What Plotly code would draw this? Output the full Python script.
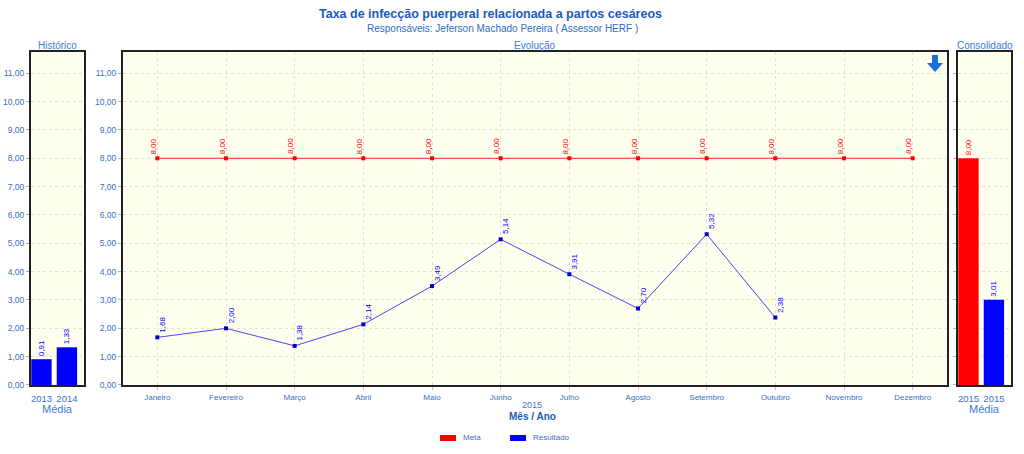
import plotly.graph_objects as go

# ---------------- data ----------------
months = ["Janeiro", "Fevereiro", "Março", "Abril", "Maio", "Junho", "Julho",
          "Agosto", "Setembro", "Outubro", "Novembro", "Dezembro"]
meta = [8.00, 8.00, 8.00, 8.00, 8.00, 8.00, 8.00, 8.00, 8.00, 8.00, 8.00, 8.00]
resultado = [1.68, 2.00, 1.38, 2.14, 3.49, 5.14, 3.91, 2.70, 5.32, 2.38, None, None]

hist_years = ["2013", "2014"]
hist_values = [0.91, 1.33]

cons_labels = ["2015", "2015"]
cons_meta = 8.00
cons_resultado = 3.01

y_ticks = [0, 1, 2, 3, 4, 5, 6, 7, 8, 9, 10, 11]
legend_names = ["Meta", "Resultado"]
legend_colors = ["#ff0000", "#0000ff"]

# ---------------- helpers ----------------
W, H = 1024, 454
VS = 0.989  # vertical compensation
def px(x):
    return x / W
def py(y):
    return 1 - (y / VS) / H

def fmt(v):
    return f"{v:.2f}".replace(".", ",")

FONT = "Liberation Sans, Arial, sans-serif"
TICK_BLUE = "#3a6fc4"
TITLE_BLUE = "#1a5cb8"
LABEL_BLUE = "#3b7bd6"
BG = "#fffff0"
GRID = "#e2e2d0"

fig = go.Figure()

# Histórico bars
fig.add_trace(go.Bar(
    x=[0, 1], y=hist_values, width=0.8,
    marker=dict(color="#0000ff", line=dict(width=0)),
    text=[fmt(v) for v in hist_values], textposition="outside", textangle=-90,
    textfont=dict(size=8, color="#0000ff", family=FONT),
    cliponaxis=False, showlegend=False, hoverinfo="y",
    xaxis="x", yaxis="y"))

# Evolução lines
fig.add_trace(go.Scatter(
    x=months, y=meta, mode="lines+markers", name="Meta",
    line=dict(color="#ff2020", width=1),
    marker=dict(symbol="square", size=4, color="#ff0000"),
    showlegend=False, xaxis="x2", yaxis="y2"))
fig.add_trace(go.Scatter(
    x=months, y=resultado, mode="lines+markers", name="Resultado",
    line=dict(color="#4848f0", width=1),
    marker=dict(symbol="square", size=4, color="#0000c8"),
    showlegend=False, xaxis="x2", yaxis="y2"))

# Consolidado bars
fig.add_trace(go.Bar(
    x=[0], y=[cons_meta], width=0.8, name="Meta",
    marker=dict(color="#ff0000", line=dict(width=0)),
    text=[fmt(cons_meta)], textposition="outside", textangle=-90,
    textfont=dict(size=8, color="#ff0000", family=FONT),
    cliponaxis=False, showlegend=False, xaxis="x3", yaxis="y3"))
fig.add_trace(go.Bar(
    x=[1], y=[cons_resultado], width=0.8, name="Resultado",
    marker=dict(color="#0000ff", line=dict(width=0)),
    text=[fmt(cons_resultado)], textposition="outside", textangle=-90,
    textfont=dict(size=8, color="#0000ff", family=FONT),
    cliponaxis=False, showlegend=False, xaxis="x3", yaxis="y3"))

# data labels on the lines
annotations = []
for m, v in zip(months, meta):
    annotations.append(dict(x=m, y=v, xref="x2", yref="y2", text=fmt(v),
                            textangle=-90, showarrow=False, xshift=-4, yshift=12,
                            xanchor="center", yanchor="middle",
                            font=dict(size=8, color="#ff0000", family=FONT)))
for m, v in zip(months, resultado):
    if v is None:
        continue
    annotations.append(dict(x=m, y=v, xref="x2", yref="y2", text=fmt(v),
                            textangle=-90, showarrow=False, xshift=5, yshift=13,
                            xanchor="center", yanchor="middle",
                            font=dict(size=8, color="#0000ff", family=FONT)))

def label(x, y, text, size, color):
    return dict(x=px(x), y=py(y), xref="paper", yref="paper", showarrow=False,
                xanchor="center", yanchor="middle", text=text,
                font=dict(size=size, color=color, family=FONT))

# titles
annotations += [
    label(490, 14, "<b>Taxa de infecção puerperal relacionada a partos cesáreos</b>", 12.5, TITLE_BLUE),
    label(502, 29, "Responsáveis: Jeferson Machado Pereira ( Assessor HERF )", 10, "#2f6cc8"),
    label(57.5, 46, "Histórico", 10, LABEL_BLUE),
    label(535, 46, "Evolução", 10, LABEL_BLUE),
    label(984.5, 46, "Consolidado", 10, LABEL_BLUE),
    label(57.5, 409, "Média", 11, LABEL_BLUE),
    label(984.5, 409, "Média", 11, LABEL_BLUE),
    label(532, 405, "2015", 9, LABEL_BLUE),
    label(532, 417, "<b>Mês / Ano</b>", 10, TITLE_BLUE),
]

# down arrow icon
arrow_path = (f"M{px(932)},{py(55)} L{px(938)},{py(55)} L{px(938)},{py(63)} "
              f"L{px(943)},{py(63)} L{px(935)},{py(72)} L{px(927)},{py(63)} "
              f"L{px(932)},{py(63)} Z")
shapes = [dict(type="path", xref="paper", yref="paper", path=arrow_path,
               fillcolor="#1c6fd4", line=dict(width=0))]

# legend (swatches + labels)
legend_x = [440, 510]
for lx, name, col in zip(legend_x, legend_names, legend_colors):
    shapes.append(dict(type="rect", xref="paper", yref="paper",
                       x0=px(lx), x1=px(lx + 16), y0=py(441), y1=py(435),
                       fillcolor=col, line=dict(width=0)))
    annotations.append(dict(x=px(lx + 21), y=py(438), xref="paper", yref="paper",
                            showarrow=False, xanchor="left", yanchor="middle",
                            text=name, font=dict(size=8, color=TICK_BLUE, family=FONT)))

y_dom = [py(385), py(52)]
yrange = [0, 11.75]

def yaxis_common(show_labels, anchor):
    return dict(domain=y_dom, range=yrange, anchor=anchor,
                tickvals=y_ticks, tickformat=".2f", showticklabels=show_labels,
                tickfont=dict(size=8.5, color=TICK_BLUE, family=FONT),
                ticks="outside", ticklen=3, tickcolor="#b0b0b0",
                showgrid=True, gridcolor=GRID, griddash="dot", gridwidth=1,
                showline=True, linecolor="#222222", linewidth=2, mirror=True,
                zeroline=False, fixedrange=True)

fig.update_layout(
    width=W, height=H,
    margin=dict(l=0, r=0, t=0, b=0),
    paper_bgcolor="white", plot_bgcolor=BG,
    separators=",.",
    barmode="overlay",
    font=dict(family=FONT, color=TICK_BLUE),
    xaxis=dict(domain=[px(31), px(84)], range=[-0.41, 1.67], anchor="y",
               tickvals=[0, 1], ticktext=hist_years,
               tickfont=dict(size=9.5, color=TICK_BLUE, family=FONT),
               ticks="outside", ticklen=4, tickcolor="rgba(0,0,0,0)", showgrid=False,
               showline=True, linecolor="#222222", linewidth=2, mirror=True,
               zeroline=False, fixedrange=True),
    yaxis=yaxis_common(True, "x"),
    xaxis2=dict(domain=[px(123), px(947)], anchor="y2", type="category",
                range=[-0.5, 11.5],
                tickfont=dict(size=8, color=TICK_BLUE, family=FONT),
                ticks="outside", ticklen=3, tickcolor="#c8c8c8",
                showgrid=True, gridcolor=GRID, griddash="dot",
                showline=True, linecolor="#222222", linewidth=2, mirror=True,
                zeroline=False, fixedrange=True),
    yaxis2=yaxis_common(True, "x2"),
    xaxis3=dict(domain=[px(958), px(1011)], range=[-0.41, 1.67], anchor="y3",
                tickvals=[0, 1], ticktext=cons_labels,
                tickfont=dict(size=9.5, color=TICK_BLUE, family=FONT),
                ticks="outside", ticklen=4, tickcolor="rgba(0,0,0,0)", showgrid=False,
                showline=True, linecolor="#222222", linewidth=2, mirror=True,
                zeroline=False, fixedrange=True),
    yaxis3=yaxis_common(False, "x3"),
    showlegend=False,
    annotations=annotations,
    shapes=shapes,
)

fig.write_html("out.html")
